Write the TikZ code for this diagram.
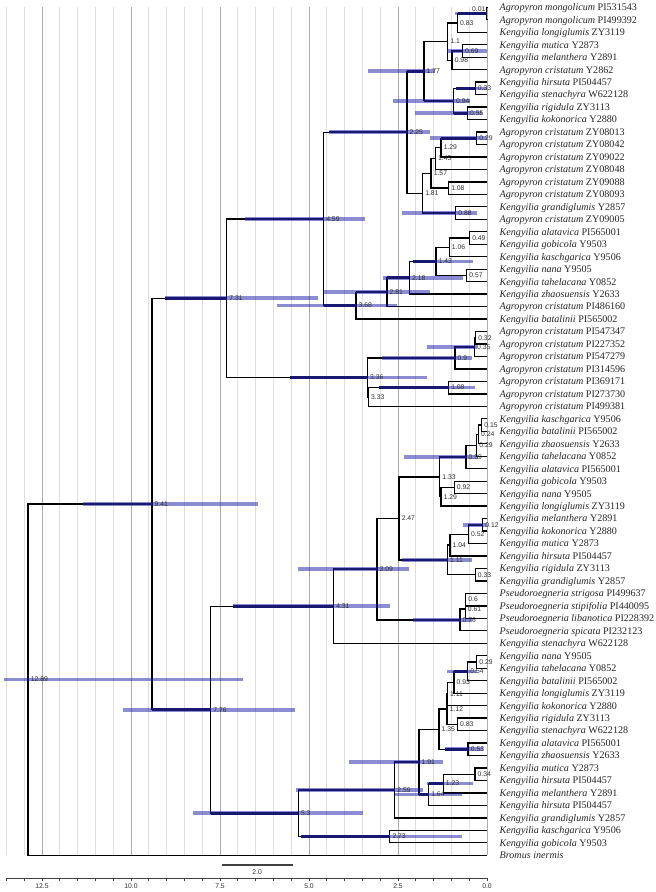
\documentclass[tikz,border=0pt]{standalone}
\usepackage{fontspec}
\setmainfont{Liberation Serif}
\newfontfamily\lsans{Liberation Sans}
\usetikzlibrary{calc}
\pgfdeclarelayer{bg}
\pgfdeclarelayer{bars}
\pgfdeclarelayer{fg}
\pgfsetlayers{bg,main,bars,fg}
\definecolor{gridlight}{RGB}{222,222,222}
\definecolor{griddark}{RGB}{172,172,172}
\definecolor{barblue}{RGB}{25,25,165}
\definecolor{navyc}{RGB}{24,24,112}
\definecolor{lblgray}{RGB}{45,45,45}

\newcommand\Leaf[2]{%
  \coordinate (t#1) at (487,{7.3+12.47*(#1-1)});
  \begin{pgfonlayer}{fg}\node[leaflab] (L#1) at (499.5,{7.3+12.47*(#1-1)}) {#2};\end{pgfonlayer}%
}
\newcommand\Tnode[5][]{%
  \coordinate (m#2) at ($(#4)!0.5!(#5)$);
  \coordinate (x#2) at ({487-35.6*#3},0);
  \coordinate (#2) at (x#2 |- m#2);
  \draw[branch] (#4) -| (#2) |- (#5);
  \begin{pgfonlayer}{fg}\node[nlab,#1] (lab#2) at (#2) {#3};\end{pgfonlayer}%
}
\newcommand\Hpd[4]{%
  \begin{pgfonlayer}{bars}
  \coordinate (hxa#1) at (#2,0); \coordinate (hxb#1) at (#3,0); \coordinate (hxc#1) at (#4,0);
  \coordinate (hA#1) at (hxa#1 |- #1); \coordinate (hB#1) at (hxb#1 |- #1); \coordinate (hN#1) at (hxc#1 |- #1);
  \fill[hpd] ($(hA#1)+(0,-1.8)$) rectangle ($(hB#1)+(0,1.8)$);
  \draw[navyseg] (hN#1) -- (#1);
  \end{pgfonlayer}%
}

\begin{document}
\begin{tikzpicture}[x=1pt,y=-1pt,
  branch/.style={line width=1.3pt, black},
  hpd/.style={fill=barblue, fill opacity=0.5},
  navyseg/.style={line width=2.6pt, navyc},
  nlab/.style={font=\lsans\fontsize{6.8}{7}\selectfont, text=lblgray, anchor=west, inner sep=0pt, xshift=2.5pt},
  leaflab/.style={font=\fontsize{10.1}{11}\selectfont, text=black!85, anchor=base west, inner sep=0pt, yshift=-3.4pt},
  gridmin/.style={line width=0.9pt, gridlight},
  gridmaj/.style={line width=0.9pt, griddark},
  axisline/.style={line width=0.9pt, black!75},
  ticklab/.style={font=\lsans\fontsize{6.8}{7}\selectfont, text=lblgray, inner sep=0pt}
]
\useasboundingbox (0,0) rectangle (656,892);

% grid
\begin{pgfonlayer}{bg}
\foreach \k in {0,...,27}{%
  \pgfmathtruncatemacro\m{mod(\k,5)}%
  \ifnum\m=0
    \draw[gridmaj] ({487-17.8*\k},7.3) -- ({487-17.8*\k},855.3);
  \else
    \draw[gridmin] ({487-17.8*\k},7.3) -- ({487-17.8*\k},855.3);
  \fi
}
\end{pgfonlayer}

% leaves
\Leaf{1}{\textit{Agropyron mongolicum} PI531543}
\Leaf{2}{\textit{Agropyron mongolicum} PI499392}
\Leaf{3}{\textit{Kengyilia longiglumis} ZY3119}
\Leaf{4}{\textit{Kengyilia mutica} Y2873}
\Leaf{5}{\textit{Kengyilia melanthera} Y2891}
\Leaf{6}{\textit{Agropyron cristatum} Y2862}
\Leaf{7}{\textit{Kengyilia hirsuta} PI504457}
\Leaf{8}{\textit{Kengyilia stenachyra} W622128}
\Leaf{9}{\textit{Kengyilia rigidula} ZY3113}
\Leaf{10}{\textit{Kengyilia kokonorica} Y2880}
\Leaf{11}{\textit{Agropyron cristatum} ZY08013}
\Leaf{12}{\textit{Agropyron cristatum} ZY08042}
\Leaf{13}{\textit{Agropyron cristatum} ZY09022}
\Leaf{14}{\textit{Agropyron cristatum} ZY08048}
\Leaf{15}{\textit{Agropyron cristatum} ZY09088}
\Leaf{16}{\textit{Agropyron cristatum} ZY08093}
\Leaf{17}{\textit{Kengyilia grandiglumis} Y2857}
\Leaf{18}{\textit{Agropyron cristatum} ZY09005}
\Leaf{19}{\textit{Kengyilia alatavica} PI565001}
\Leaf{20}{\textit{Kengyilia gobicola} Y9503}
\Leaf{21}{\textit{Kengyilia kaschgarica} Y9506}
\Leaf{22}{\textit{Kengyilia nana} Y9505}
\Leaf{23}{\textit{Kengyilia tahelacana} Y0852}
\Leaf{24}{\textit{Kengyilia zhaosuensis} Y2633}
\Leaf{25}{\textit{Agropyron cristatum} PI486160}
\Leaf{26}{\textit{Kengyilia batalinii} PI565002}
\Leaf{27}{\textit{Agropyron cristatum} PI547347}
\Leaf{28}{\textit{Agropyron cristatum} PI227352}
\Leaf{29}{\textit{Agropyron cristatum} PI547279}
\Leaf{30}{\textit{Agropyron cristatum} PI314596}
\Leaf{31}{\textit{Agropyron cristatum} PI369171}
\Leaf{32}{\textit{Agropyron cristatum} PI273730}
\Leaf{33}{\textit{Agropyron cristatum} PI499381}
\Leaf{34}{\textit{Kengyilia kaschgarica} Y9506}
\Leaf{35}{\textit{Kengyilia batalinii} PI565002}
\Leaf{36}{\textit{Kengyilia zhaosuensis} Y2633}
\Leaf{37}{\textit{Kengyilia tahelacana} Y0852}
\Leaf{38}{\textit{Kengyilia alatavica} PI565001}
\Leaf{39}{\textit{Kengyilia gobicola} Y9503}
\Leaf{40}{\textit{Kengyilia nana} Y9505}
\Leaf{41}{\textit{Kengyilia longiglumis} ZY3119}
\Leaf{42}{\textit{Kengyilia melanthera} Y2891}
\Leaf{43}{\textit{Kengyilia kokonorica} Y2880}
\Leaf{44}{\textit{Kengyilia mutica} Y2873}
\Leaf{45}{\textit{Kengyilia hirsuta} PI504457}
\Leaf{46}{\textit{Kengyilia rigidula} ZY3113}
\Leaf{47}{\textit{Kengyilia grandiglumis} Y2857}
\Leaf{48}{\textit{Pseudoroegneria strigosa} PI499637}
\Leaf{49}{\textit{Pseudoroegneria stipifolia} PI440095}
\Leaf{50}{\textit{Pseudoroegneria libanotica} PI228392}
\Leaf{51}{\textit{Pseudoroegneria spicata} PI232123}
\Leaf{52}{\textit{Kengyilia stenachyra} W622128}
\Leaf{53}{\textit{Kengyilia nana} Y9505}
\Leaf{54}{\textit{Kengyilia tahelacana} Y0852}
\Leaf{55}{\textit{Kengyilia batalinii} PI565002}
\Leaf{56}{\textit{Kengyilia longiglumis} ZY3119}
\Leaf{57}{\textit{Kengyilia kokonorica} Y2880}
\Leaf{58}{\textit{Kengyilia rigidula} ZY3113}
\Leaf{59}{\textit{Kengyilia stenachyra} W622128}
\Leaf{60}{\textit{Kengyilia alatavica} PI565001}
\Leaf{61}{\textit{Kengyilia zhaosuensis} Y2633}
\Leaf{62}{\textit{Kengyilia mutica} Y2873}
\Leaf{63}{\textit{Kengyilia hirsuta} PI504457}
\Leaf{64}{\textit{Kengyilia melanthera} Y2891}
\Leaf{65}{\textit{Kengyilia hirsuta} PI504457}
\Leaf{66}{\textit{Kengyilia grandiglumis} Y2857}
\Leaf{67}{\textit{Kengyilia kaschgarica} Y9506}
\Leaf{68}{\textit{Kengyilia gobicola} Y9503}
\Leaf{69}{\textit{Bromus inermis}}

% internal nodes
\Tnode[anchor=east, xshift=-3.6pt, yshift=4.2pt]{a1}{0.01}{t1}{t2}
\Tnode{a2}{0.83}{a1}{t3}
\Tnode{a3}{0.69}{t4}{t5}
\Tnode{a4}{0.98}{a3}{t6}
\Tnode{a5}{1.1}{a2}{a4}
\Tnode{a6}{0.33}{t7}{t8}
\Tnode{a7}{0.55}{t9}{t10}
\Tnode{a8}{0.94}{a6}{a7}
\Tnode{a9}{1.77}{a5}{a8}
\Tnode{a10}{0.29}{t11}{t12}
\Tnode{a11}{1.29}{a10}{t13}
\Tnode{a12}{1.45}{a11}{t14}
\Tnode{a13}{1.08}{t15}{t16}
\Tnode{a14}{1.57}{a12}{a13}
\Tnode{a15}{0.88}{t17}{t18}
\Tnode{a16}{1.81}{a14}{a15}
\Tnode{a17}{2.25}{a9}{a16}
\Tnode{a18}{0.49}{t19}{t20}
\Tnode{a19}{1.06}{a18}{t21}
\Tnode{a20}{0.57}{t22}{t23}
\Tnode{a21}{1.43}{a19}{a20}
\Tnode{a22}{2.18}{a21}{t24}
\Tnode{a23}{2.81}{a22}{t25}
\Tnode{a24}{3.68}{a23}{t26}
\Tnode{a25}{4.59}{a17}{a24}
\Tnode{b1}{0.32}{t27}{t28}
\Tnode{b2}{0.35}{b1}{t29}
\Tnode{b3}{0.9}{b2}{t30}
\Tnode{b4}{1.08}{t31}{t32}
\Tnode{b5}{3.33}{b4}{t33}
\Tnode{b6}{3.36}{b3}{b5}
\Tnode{b7}{7.31}{a25}{b6}
\Tnode{c1}{0.15}{t34}{t35}
\Tnode{c2}{0.24}{c1}{t36}
\Tnode{c3}{0.29}{c2}{t37}
\Tnode{c4}{0.59}{c3}{t38}
\Tnode{c5}{0.92}{t39}{t40}
\Tnode{c6}{1.29}{c5}{t41}
\Tnode{c7}{1.33}{c4}{c6}
\Tnode{c8}{0.12}{t42}{t43}
\Tnode{c9}{0.52}{c8}{t44}
\Tnode{c10}{1.04}{c9}{t45}
\Tnode{c11}{0.33}{t46}{t47}
\Tnode{c12}{1.11}{c10}{c11}
\Tnode{c13}{2.47}{c7}{c12}
\Tnode{c14}{0.6}{t48}{t49}
\Tnode{c15}{0.61}{c14}{t50}
\Tnode{c16}{0.76}{c15}{t51}
\Tnode{c17}{3.09}{c13}{c16}
\Tnode{c18}{4.31}{c17}{t52}
\Tnode{d1}{0.29}{t53}{t54}
\Tnode{d2}{0.54}{d1}{t55}
\Tnode{d3}{0.93}{d2}{t56}
\Tnode{d4}{1.11}{d3}{t57}
\Tnode{d5}{0.83}{t58}{t59}
\Tnode{d6}{1.12}{d4}{d5}
\Tnode{d7}{0.53}{t60}{t61}
\Tnode{d8}{1.35}{d6}{d7}
\Tnode{d9}{0.34}{t62}{t63}
\Tnode{d10}{1.23}{d9}{t64}
\Tnode{d11}{1.64}{d10}{t65}
\Tnode{d12}{1.91}{d8}{d11}
\Tnode{d13}{2.59}{d12}{t66}
\Tnode{d14}{2.73}{t67}{t68}
\Tnode{d15}{5.3}{d13}{d14}
\Tnode{d16}{7.76}{c18}{d15}
\Tnode{r1}{9.41}{b7}{d16}
\Tnode{root}{12.89}{r1}{t69}

% HPD bars
\Hpd{a1}{455}{487}{457.5}
\Hpd{a3}{447}{487}{452.1}
\Hpd{a6}{456}{487}{456}
\Hpd{a7}{415}{482}{453.5}
\Hpd{a8}{393}{470}{424}
\Hpd{a9}{368}{435}{406.9}
\Hpd{a10}{430}{487}{441.1}
\Hpd{a15}{402}{477}{422.6}
\Hpd{a17}{329}{430}{329}
\Hpd{a21}{413}{473}{413}
\Hpd{a22}{383}{463}{387}
\Hpd{a23}{323}{430}{356}
\Hpd{a24}{277}{397}{323.6}
\Hpd{a25}{245}{365}{245}
\Hpd{b2}{427}{477}{455}
\Hpd{b3}{382}{472}{382}
\Hpd{b4}{379}{475}{379}
\Hpd{b6}{290}{427}{290}
\Hpd{b7}{165}{318}{165}
\Hpd{c4}{404}{478}{439.7}
\Hpd{c8}{463}{487}{468.5}
\Hpd{c12}{402}{472}{402}
\Hpd{c16}{413}{472}{413}
\Hpd{c17}{298}{409}{333.6}
\Hpd{c18}{233}{390}{233}
\Hpd{d2}{447}{477}{453.9}
\Hpd{d7}{445}{483}{445}
\Hpd{d10}{427}{473}{428.6}
\Hpd{d11}{395}{462}{419}
\Hpd{d12}{349}{443}{394.8}
\Hpd{d13}{296}{423}{298.3}
\Hpd{d14}{301}{462}{301}
\Hpd{d15}{193}{363}{210.7}
\Hpd{d16}{123}{295}{152}
\Hpd{r1}{83}{258}{83}
\Hpd{root}{4}{243}{28.1}

% scale bar
\coordinate (sbA) at (221.7,865);
\coordinate (sbB) at (292.7,865);
\draw[axisline, line width=1.1pt] (sbA) -- (sbB);
\node[ticklab] (sblab) at (257.2,872) {2.0};

% axis
\coordinate (axL) at (6.4,878);
\coordinate (axR) at (487,878);
\draw[axisline] (axL) -- (axR);
\foreach \k in {0,...,27}{\draw[axisline] ({487-17.8*\k},878) -- ({487-17.8*\k},881);}
\foreach \k/\t in {0/0.0,5/2.5,10/5.0,15/7.5,20/10.0,25/12.5}{
  \node[ticklab] (tick\k) at ({487-17.8*\k},886.5) {\t};}
\end{tikzpicture}
\end{document}
